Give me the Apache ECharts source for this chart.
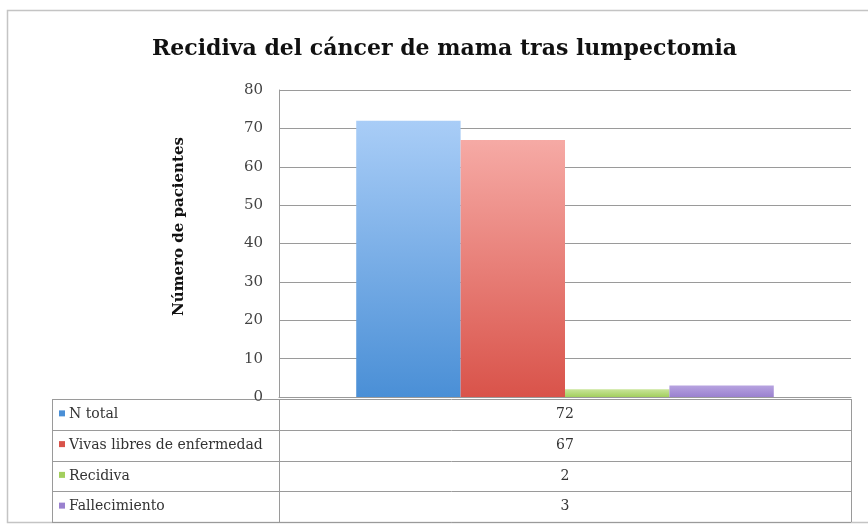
<!DOCTYPE html>
<html>
<head>
<meta charset="utf-8">
<title>Recidiva del cáncer de mama tras lumpectomia</title>
<script src="https://cdn.jsdelivr.net/npm/echarts@6/dist/echarts.min.js"></script>
<style>
    html, body { margin: 0; padding: 0; background: #fff; }
    #chart { width: 868px; height: 525px; }
</style>
</head>
<body>
<div id="chart"></div>
<script>
    var seriesNames = ['N total', 'Vivas libres de enfermedad', 'Recidiva', 'Fallecimiento'];
    var seriesValues = [72, 67, 2, 3];
    var categories = [''];
    var yTicks = [0, 10, 20, 30, 40, 50, 60, 70, 80];

    var colorsTop = ['#a9cdf7', '#f6aaa5', '#c9e59a', '#b7a3e0'];
    var colorsBottom = ['#4a8fd6', '#d9534a', '#a3cf5e', '#9a81cf'];

    var font = 'DejaVu Serif';

    var chart = echarts.init(document.getElementById('chart'));

    var series = [];
    for (var i = 0; i < seriesNames.length; i++) {
        series.push({
            name: seriesNames[i],
            type: 'bar',
            data: [seriesValues[i]],
            barGap: '0%',
            barCategoryGap: '27%',
            itemStyle: {
                color: new echarts.graphic.LinearGradient(0, 0, 0, 1, [
                    { offset: 0, color: colorsTop[i] },
                    { offset: 1, color: colorsBottom[i] }
                ])
            }
        });
    }

    // tabla de datos bajo el eje
    var tLeft = 52, tMid = 279, tRight = 851, tTop = 399, rowH = 30.75;
    var graphics = [{
        type: 'rect',
        shape: { x: 7.5, y: 10.5, width: 880, height: 512 },
        style: { fill: 'none', stroke: '#c4c4c4', lineWidth: 1.5 },
        silent: true
    }];
    for (var r = 0; r <= seriesNames.length; r++) {
        var yy = Math.round(tTop + r * rowH) + 0.5;
        graphics.push({
            type: 'line',
            shape: { x1: tLeft, y1: yy, x2: tRight, y2: yy },
            style: { stroke: '#9a9a9a', lineWidth: 1 }
        });
    }
    [tLeft, tMid, tRight].forEach(function (x) {
        graphics.push({
            type: 'line',
            shape: { x1: x + 0.5, y1: tTop, x2: x + 0.5, y2: tTop + rowH * seriesNames.length },
            style: { stroke: '#9a9a9a', lineWidth: 1 }
        });
    });
    for (var k = 0; k < seriesNames.length; k++) {
        var cy = tTop + k * rowH + rowH / 2;
        graphics.push({
            type: 'rect',
            shape: { x: 59, y: cy - 4, width: 6, height: 6 },
            style: { fill: colorsBottom[k] }
        });
        graphics.push({
            type: 'text',
            x: 69, y: cy,
            style: { text: seriesNames[k], font: '14px "' + font + '"', fill: '#333', verticalAlign: 'middle' }
        });
        graphics.push({
            type: 'text',
            x: (tMid + tRight) / 2, y: cy,
            style: { text: String(seriesValues[k]), font: '14px "' + font + '"', fill: '#333', align: 'center', verticalAlign: 'middle' }
        });
    }

    var option = {
        animation: false,
        title: {
            text: 'Recidiva del cáncer de mama tras lumpectomia',
            left: 147,
            top: 33,
            textStyle: { fontFamily: font, fontWeight: 'bold', fontSize: 22, color: '#111' }
        },
        grid: { left: 279, right: 17, top: 90, bottom: 128 },
        xAxis: {
            type: 'category',
            data: categories,
            axisLine: { show: true, lineStyle: { color: '#9a9a9a' } },
            axisTick: { show: false },
            axisLabel: { show: false }
        },
        yAxis: {
            type: 'value',
            min: yTicks[0],
            max: yTicks[yTicks.length - 1],
            interval: 10,
            name: 'Número de pacientes',
            nameLocation: 'middle',
            nameGap: 92,
            nameTextStyle: { fontFamily: font, fontWeight: 'bold', fontSize: 15, color: '#111', padding: [0, 0, 0, 34] },
            axisLine: { show: true, lineStyle: { color: '#9a9a9a' } },
            axisTick: { show: false },
            axisLabel: { fontFamily: font, fontSize: 15, color: '#444', margin: 16 },
            splitLine: { lineStyle: { color: '#9a9a9a' } }
        },
        series: series,
        graphic: graphics
    };

    chart.setOption(option);
</script>
</body>
</html>
